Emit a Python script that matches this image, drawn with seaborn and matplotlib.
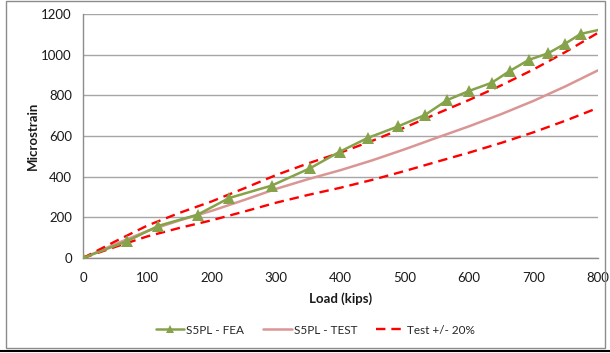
import numpy as np
import pandas as pd
import matplotlib
matplotlib.use("Agg")
import matplotlib.pyplot as plt
from matplotlib.lines import Line2D
from matplotlib.patches import Rectangle
import seaborn as sns

# FEA prediction (load in kips, microstrain)
fea_load = [0, 68, 117, 178, 227, 293, 353, 399, 442, 490, 531, 566, 600, 635, 663, 693, 722, 748, 773, 800]
fea_strain = [0, 82, 158, 213, 295, 356, 442, 523, 590, 648, 703, 777, 822, 862, 920, 975, 1006, 1052, 1102, 1121]

# Measured gauge response
test_load = [0, 50, 100, 150, 200, 250, 300, 350, 400, 450, 500, 550, 600, 650, 700, 750, 800]
test_strain = [0, 68, 133, 185, 232, 285, 340, 388, 432, 481, 535, 592, 648, 708, 773, 845, 923]

band = 0.20  # +/- 20% envelope around the test curve

x_ticks = [0, 100, 200, 300, 400, 500, 600, 700, 800]
y_ticks = [0, 200, 400, 600, 800, 1000, 1200]

sns.set_theme(style="white")
plt.rcParams["font.family"] = ["Lato", "DejaVu Sans"]

fea_color = "#86A24A"
test_color = "#D99694"
band_color = "#FF0000"
axis_gray = "#8C8C8C"

fig = plt.figure(figsize=(6.10, 3.53), dpi=100)
ax = fig.add_axes([83 / 610, 1 - 258 / 353, (598 - 83) / 610, (258 - 14) / 353])

test_df = pd.DataFrame({"load": test_load, "strain": test_strain})
test_df["upper"] = test_df["strain"] * (1 + band)
test_df["lower"] = test_df["strain"] * (1 - band)
fea_df = pd.DataFrame({"load": fea_load, "strain": fea_strain})

dash = (0, (4, 2.5))
sns.lineplot(data=test_df, x="load", y="upper", ax=ax, color=band_color,
             linewidth=1.7, linestyle=dash, zorder=3)
sns.lineplot(data=test_df, x="load", y="lower", ax=ax, color=band_color,
             linewidth=1.7, linestyle=dash, zorder=3)
sns.lineplot(data=test_df, x="load", y="strain", ax=ax, color=test_color,
             linewidth=1.8, zorder=2)
sns.lineplot(data=fea_df, x="load", y="strain", ax=ax, color=fea_color,
             linewidth=1.8, marker="^", markersize=8, markeredgewidth=0,
             markevery=list(range(len(fea_load) - 1)), zorder=4)

ax.set_xlim(0, 800)
ax.set_ylim(0, 1200)
ax.set_xticks(x_ticks)
ax.set_yticks(y_ticks)
ax.set_xticklabels([str(v) for v in x_ticks])
ax.set_yticklabels([str(v) for v in y_ticks])
ax.tick_params(axis="both", labelsize=9.5, colors=axis_gray, labelcolor="#1a1a1a",
               length=4, width=1, direction="out", pad=4)
ax.tick_params(axis="x", pad=6)

ax.yaxis.grid(True, color="#A6A6A6", linewidth=1)
ax.xaxis.grid(False)
ax.set_axisbelow(True)
for side in ["top", "right"]:
    ax.spines[side].set_visible(False)
for side in ["left", "bottom"]:
    ax.spines[side].set_color(axis_gray)
    ax.spines[side].set_linewidth(1)

ax.set_xlabel("Load (kips)", fontsize=9.5, fontweight="bold", color="#1a1a1a", labelpad=6)
ax.set_ylabel("Microstrain", fontsize=9.5, fontweight="bold", color="#1a1a1a", labelpad=2)

handles = [
    Line2D([0], [0], color=fea_color, linewidth=1.8, marker="^", markersize=6, markeredgewidth=0),
    Line2D([0], [0], color=test_color, linewidth=1.8),
    Line2D([0], [0], color=band_color, linewidth=1.7, linestyle=dash),
]
labels = ["S5PL - FEA", "S5PL - TEST", "Test +/- 20%"]
fig.legend(handles, labels, loc="center", bbox_to_anchor=(0.517, 1 - 330 / 353),
           ncol=3, frameon=False, fontsize=8.5, handlelength=2.4, handletextpad=0.2,
           columnspacing=1.6)

# chart border and the rule beneath it
fig.patches.append(Rectangle((6 / 610, 1 - 348 / 353), 599 / 610, 347 / 353,
                             transform=fig.transFigure, fill=False,
                             edgecolor="#8C8C8C", linewidth=1))
fig.add_artist(Line2D([0, 1], [1 - 351 / 353] * 2, transform=fig.transFigure,
                      color="black", linewidth=1.5))

fig.savefig("out.png", dpi=100)
